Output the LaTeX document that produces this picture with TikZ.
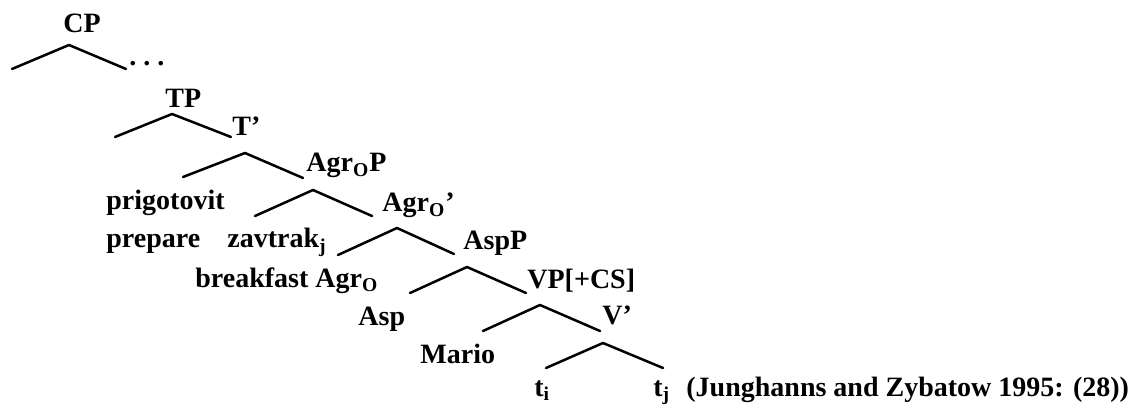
\documentclass[tikz,border=0pt]{standalone}
\usepackage{fontspec}
\setmainfont{Liberation Serif}
\usetikzlibrary{positioning}
\tikzset{lab/.style={anchor=base west,inner sep=0pt,font=\fontsize{14}{16}\selectfont\bfseries},
         branch/.style={line width=1.25pt,line cap=round}}
\newcommand{\agro}{Agr\textsubscript{O}}

\begin{document}
\begin{tikzpicture}[x=0.5pt,y=-0.5pt]
    \useasboundingbox (0,0) rectangle (1135,406);
    % labels
    \node[lab] (cp) at (63,33) {CP};
    \node[lab] (dots) at (129,66) {.~.~.};
    \node[lab] (tp) at (165,108) {TP};
    \node[lab] (tbar) at (232,136) {T\textquoteright};
    \node[lab] (agrop) at (306,172) {\agro P};
    \node[lab] (prig) at (106,210) {prigotovit};
    \node[lab] (agrobar) at (382,212) {\agro\textquoteright};
    \node[lab] (prep) at (106,248) {prepare};
    \node[lab] (zavt) at (227,248) {zavtrak\textsubscript{j}};
    \node[lab] (aspp) at (463,250) {AspP};
    \node[lab] (brea) at (195,287) {breakfast \agro};
    \node[lab] (vp) at (527,289) {VP[+CS]};
    \node[lab] (asp) at (358,325) {Asp};
    \node[lab] (vbar) at (602,324) {V\textquoteright};
    \node[lab] (mario) at (420,363) {Mario};
    \node[lab] (ti) at (534,396) {t\textsubscript{i}};
    \node[lab] (tj) at (653,396) {t\textsubscript{j}};
    \node[lab] (src) at (686,396) {(Junghanns and Zybatow 1995: (28))};

    % branch points
    \coordinate (cp-top) at (69,45);    \coordinate (cp-l) at (12,69);    \coordinate (cp-r) at (126,69);
    \coordinate (tp-top) at (172,114);  \coordinate (tp-l) at (115,137);  \coordinate (tp-r) at (231,137);
    \coordinate (tb-top) at (245,153);  \coordinate (tb-l) at (183,177);  \coordinate (tb-r) at (303,178);
    \coordinate (ap-top) at (313,190);  \coordinate (ap-l) at (255,216);  \coordinate (ap-r) at (372,216);
    \coordinate (ab-top) at (397,228);  \coordinate (ab-l) at (338,255);  \coordinate (ab-r) at (454,254);
    \coordinate (sp-top) at (467,267);  \coordinate (sp-l) at (410,293);  \coordinate (sp-r) at (526,293);
    \coordinate (vp-top) at (540,305);  \coordinate (vp-l) at (483,331);  \coordinate (vp-r) at (600,331);
    \coordinate (vb-top) at (603,343);  \coordinate (vb-l) at (546,368);  \coordinate (vb-r) at (663,368);

    \draw[branch]
    (cp-top) edge (cp-l) (cp-top) edge (cp-r)
    (tp-top) edge (tp-l) (tp-top) edge (tp-r)
    (tb-top) edge (tb-l) (tb-top) edge (tb-r)
    (ap-top) edge (ap-l) (ap-top) edge (ap-r)
    (ab-top) edge (ab-l) (ab-top) edge (ab-r)
    (sp-top) edge (sp-l) (sp-top) edge (sp-r)
    (vp-top) edge (vp-l) (vp-top) edge (vp-r)
    (vb-top) edge (vb-l) (vb-top) edge (vb-r);
\end{tikzpicture}
\end{document}
